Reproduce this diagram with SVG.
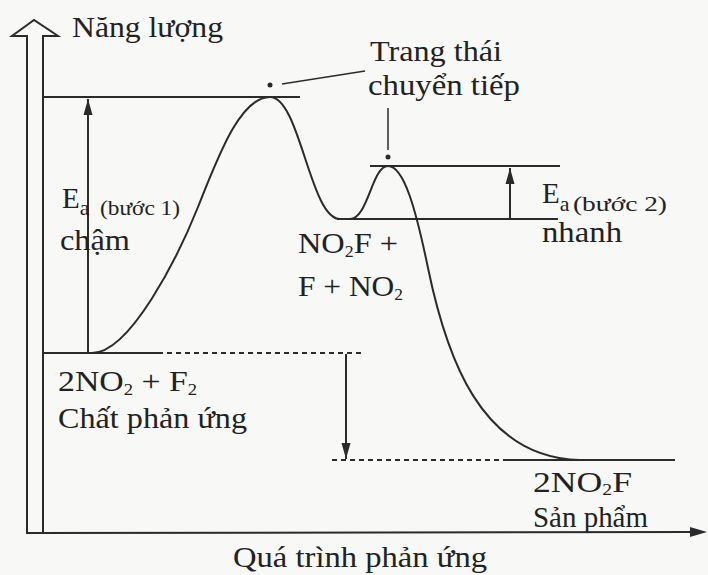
<svg xmlns="http://www.w3.org/2000/svg" width="708" height="575" viewBox="0 0 708 575">
<style>
.ln{stroke:#2b2b2b;stroke-width:2;fill:none}
.dash{stroke:#2b2b2b;stroke-width:2;fill:none;stroke-dasharray:5,4}
.t{font-family:"Liberation Serif","Times New Roman",serif;font-size:29px;fill:#222}
.s{font-size:22px}
.sub{font-size:16px}
</style>
<defs>
<marker id="ahs" viewBox="0 0 16 10" refX="16" refY="5" markerWidth="16" markerHeight="10" markerUnits="userSpaceOnUse" orient="auto">
<path d="M0,0.5 L16,5 L0,9.5 Z" fill="#2b2b2b"/>
</marker>
</defs>
<rect width="708" height="575" fill="#f8f8f6"/>
<g id="axes">
<path class="ln" d="M27,534 L27,36 L12,36 L34,20 L58,36 L43,36 L43,532"/>
<line class="ln" x1="27" y1="533" x2="694" y2="532"/>
<path d="M690,527 L707,532 L690,537 Z" fill="#2b2b2b"/>
</g>
<g id="connectors">
<line class="ln" x1="43" y1="97" x2="300" y2="97"/>
<line class="ln" x1="370" y1="166" x2="560" y2="166"/>
<line class="ln" x1="337" y1="219" x2="558" y2="219"/>
<line class="ln" x1="43" y1="353" x2="158" y2="353"/>
<line class="dash" x1="158" y1="353" x2="363" y2="353"/>
<line class="dash" x1="332" y1="460" x2="503" y2="460"/>
<line class="ln" x1="503" y1="460" x2="675" y2="460"/>
<path class="ln" d="M92,353 C130,353 178,257 198,207 C218,157 240,97 270,97 C300,97 310,219 340,219 L350,219 C368,219 372,166 388,166 C404,166 416,210 428,268 C446,355 480,458 580,460"/>
<line class="ln" x1="88" y1="353" x2="88" y2="99" marker-end="url(#ahs)"/>
<line class="ln" x1="510" y1="219" x2="510" y2="168" marker-end="url(#ahs)"/>
<line class="ln" x1="346" y1="354" x2="346" y2="459" marker-end="url(#ahs)"/>
<line class="ln" x1="282" y1="84" x2="365" y2="71" style="stroke-width:1.5"/>
<line class="ln" x1="388" y1="108" x2="388" y2="150" style="stroke-width:1.5"/>
<circle cx="270" cy="85" r="2.5" fill="#2b2b2b"/>
<circle cx="388" cy="157" r="2.5" fill="#2b2b2b"/>
</g>
<g id="label-energy"><text class="t" x="72" y="37" textLength="151" lengthAdjust="spacingAndGlyphs">Năng lượng</text></g>
<g id="label-ts">
<text class="t" x="370" y="61" textLength="132" lengthAdjust="spacingAndGlyphs">Trang thái</text>
<text class="t" x="368" y="95" textLength="152" lengthAdjust="spacingAndGlyphs">chuyển tiếp</text>
</g>
<g id="label-ea1">
<text class="t" x="62" y="208">E<tspan class="s" dy="7">a</tspan></text>
<text class="t s" x="100" y="215" textLength="80" lengthAdjust="spacingAndGlyphs">(bước 1)</text>
<text class="t" x="60" y="250" textLength="70" lengthAdjust="spacingAndGlyphs">chậm</text>
</g>
<g id="label-ea2">
<text class="t" x="542" y="203">E<tspan class="s" dy="8">a</tspan></text>
<text class="t s" x="573" y="211" textLength="94" lengthAdjust="spacingAndGlyphs">(bước 2)</text>
<text class="t" x="542" y="242" textLength="80" lengthAdjust="spacingAndGlyphs">nhanh</text>
</g>
<g id="label-intermediate">
<text class="t" x="298" y="253" textLength="100" lengthAdjust="spacingAndGlyphs">NO<tspan class="sub" dy="4">2</tspan><tspan dy="-4">F +</tspan></text>
<text class="t" x="298" y="296" textLength="105" lengthAdjust="spacingAndGlyphs">F + NO<tspan class="sub" dy="4">2</tspan></text>
</g>
<g id="label-reactants">
<text class="t" x="58" y="391" textLength="139" lengthAdjust="spacingAndGlyphs">2NO<tspan class="sub" dy="4">2</tspan><tspan dy="-4"> + F</tspan><tspan class="sub" dy="4">2</tspan></text>
<text class="t" x="58" y="428" textLength="189" lengthAdjust="spacingAndGlyphs">Chất phản ứng</text>
</g>
<g id="label-products">
<text class="t" x="533" y="492" textLength="99" lengthAdjust="spacingAndGlyphs">2NO<tspan class="sub" dy="3">2</tspan><tspan dy="-3">F</tspan></text>
<text class="t" x="533" y="527" textLength="115" lengthAdjust="spacingAndGlyphs">Sản phẩm</text>
</g>
<g id="label-x"><text class="t" x="233" y="567" textLength="254" lengthAdjust="spacingAndGlyphs">Quá trình phản ứng</text></g>
</svg>
